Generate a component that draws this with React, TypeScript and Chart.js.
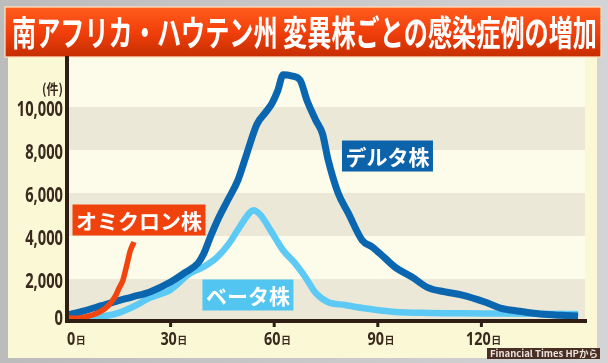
import React, { useEffect, useRef } from "react";
import { Chart, registerables } from "chart.js";

Chart.register(...registerables);

const titleText = "南アフリカ・ハウテン州 変異株ごとの感染症例の増加";
const unitLabel = "(件)";
const creditText = "Financial Times HPから";

const yTicks = [0, 2000, 4000, 6000, 8000, 10000];
const xTicks = [0, 30, 60, 90, 120];
const tanBands = [
  [0, 2000],
  [4000, 6000],
  [8000, 10000],
];

const deltaDays = [0, 5, 10, 14, 19, 24, 30, 34, 38, 39.5, 41.5, 43.5, 46.5, 49.5, 52, 55, 57.5, 59.3, 61, 62.6, 65, 67.5, 69.5, 72, 74, 75.6, 78.5, 81.5, 85.5, 88.5, 92, 95, 100, 104.5, 109.5, 114.5, 121, 125.5, 131, 137, 143, 148];
const deltaValues = [330, 520, 760, 950, 1170, 1400, 1860, 2280, 2750, 3150, 3950, 4700, 5650, 6600, 7800, 9200, 9750, 10150, 10750, 11500, 11450, 11250, 10300, 9400, 8750, 7550, 6000, 5050, 3800, 3480, 2980, 2550, 2080, 1600, 1400, 1250, 930, 650, 500, 370, 310, 280];

const betaDays = [0, 5, 10, 14.5, 19, 24, 30, 35.5, 39.5, 43.5, 47, 50, 53, 54, 56, 59, 62.5, 66, 69, 72, 75.5, 80.5, 85.5, 95, 105, 120, 135, 148];
const betaValues = [80, 120, 250, 400, 700, 1120, 1500, 2250, 2560, 3020, 3670, 4420, 5100, 5200, 4980, 4250, 3350, 2740, 2090, 1350, 930, 790, 650, 470, 420, 400, 380, 370];

const omicronDays = [0, 3, 6, 9, 11, 12.5, 14, 15, 16.2, 17.4, 18.3, 19.4];
const omicronValues = [200, 180, 260, 430, 620, 860, 1200, 1550, 1950, 2700, 3300, 3720];

const seriesLabels = [
  { text: "オミクロン株", day: 20.85, value: 4744, color: "#f0420c" },
  { text: "デルタ株", day: 92.8, value: 7720, color: "#0d63a9" },
  { text: "ベータ株", day: 52.4, value: 1256, color: "#52c5f1" },
];

const toPoints = (xs: number[], ys: number[]) => xs.map((x, i) => ({ x, y: ys[i] }));

const bgPlugin = {
  id: "bg",
  beforeDraw(chart: any) {
    const { ctx, chartArea } = chart;
    const W = chart.width;
    const H = chart.height;
    ctx.save();
    const g = ctx.createLinearGradient(0, 0, W, 0);
    g.addColorStop(0, "#bcbcbc");
    g.addColorStop(1, "#d4d4d6");
    ctx.fillStyle = g;
    ctx.fillRect(0, 0, W, H);
    // panel
    ctx.fillStyle = "#fbf8d6";
    ctx.fillRect(8, 48, 589, 310);
    // plot background
    ctx.fillStyle = "#fdfcea";
    ctx.fillRect(chartArea.left, 56, chartArea.right - chartArea.left, chartArea.bottom - 56);
    const ys = chart.scales.y;
    ctx.fillStyle = "#ece8d7";
    tanBands.forEach(([a, b]) => {
      const y1 = ys.getPixelForValue(b);
      const y0 = ys.getPixelForValue(a);
      ctx.fillRect(chartArea.left, y1, chartArea.right - chartArea.left, y0 - y1);
    });
    // title bar
    const tg = ctx.createLinearGradient(0, 7, 0, 57);
    tg.addColorStop(0, "#ff5d1e");
    tg.addColorStop(0.5, "#f23f0b");
    tg.addColorStop(1, "#c42e02");
    ctx.fillStyle = tg;
    ctx.beginPath();
    ctx.rect(5, 7, 596, 50);
    ctx.fill();
    ctx.strokeStyle = "rgba(255,225,190,0.85)";
    ctx.lineWidth = 1.5;
    ctx.stroke();
    ctx.fillStyle = "#ffffff";
    ctx.font = 'bold 35px "Noto Sans CJK JP"';
    ctx.textBaseline = "middle";
    ctx.textAlign = "left";
    const tw = ctx.measureText(titleText).width;
    ctx.translate(12, 33);
    ctx.scale(585 / tw, 1);
    ctx.fillText(titleText, 0, 0);
    ctx.restore();
  },
  afterDatasetsDraw(chart: any) {
    const { ctx, chartArea } = chart;
    const xs = chart.scales.x;
    ctx.save();
    ctx.strokeStyle = "#2e1e14";
    ctx.lineWidth = 4;
    ctx.beginPath();
    ctx.moveTo(chartArea.left, 56);
    ctx.lineTo(chartArea.left, chartArea.bottom + 1);
    ctx.moveTo(chartArea.left - 2, chartArea.bottom - 1);
    ctx.lineTo(chartArea.right + 2, chartArea.bottom - 1);
    ctx.stroke();
    ctx.lineWidth = 3;
    xTicks.slice(1).forEach((t) => {
      const px = xs.getPixelForValue(t);
      ctx.beginPath();
      ctx.moveTo(px, chartArea.bottom);
      ctx.lineTo(px, chartArea.bottom + 5);
      ctx.stroke();
    });
    ctx.restore();
  },
  afterDraw(chart: any) {
    const { ctx, chartArea } = chart;
    const xs = chart.scales.x;
    const ys = chart.scales.y;
    ctx.save();
    ctx.fillStyle = "#3a2a1e";
    ctx.textBaseline = "middle";
    // y labels
    ctx.font = 'bold 21px "Noto Sans"';
    yTicks.forEach((t) => {
      const py = Math.min(ys.getPixelForValue(t) + 2, chartArea.bottom - 4);
      const txt = t.toLocaleString("en-US");
      ctx.save();
      ctx.translate(63, py);
      ctx.scale(0.7, 1);
      ctx.textAlign = "right";
      ctx.fillText(txt, 0, 1);
      ctx.restore();
    });
    // unit
    ctx.save();
    ctx.font = 'bold 14px "Noto Sans CJK JP"';
    ctx.translate(63, 89);
    ctx.scale(0.85, 1);
    ctx.textAlign = "right";
    ctx.fillText(unitLabel, 0, 0);
    ctx.restore();
    // x labels
    ctx.textBaseline = "alphabetic";
    xTicks.forEach((t) => {
      const px = xs.getPixelForValue(t);
      const txt = String(t);
      ctx.font = 'bold 18px "Noto Sans"';
      const dw = ctx.measureText(txt).width * 0.8;
      const start = Math.max(chartArea.left, px - dw * 0.62);
      ctx.save();
      ctx.translate(start, 345);
      ctx.scale(0.8, 1);
      ctx.textAlign = "left";
      ctx.fillText(txt, 0, 0);
      ctx.restore();
      ctx.font = 'bold 10px "Noto Sans CJK JP"';
      ctx.textAlign = "left";
      ctx.fillText("日", start + dw + 0.5, 344);
    });
    // series labels
    ctx.font = 'bold 21px "Noto Sans CJK JP"';
    ctx.textBaseline = "middle";
    seriesLabels.forEach((l) => {
      const cx = xs.getPixelForValue(l.day);
      const cy = ys.getPixelForValue(l.value);
      const w = ctx.measureText(l.text).width + 7;
      const h = 31;
      ctx.fillStyle = l.color;
      ctx.fillRect(cx - w / 2, cy - h / 2, w, h);
      ctx.fillStyle = "#ffffff";
      ctx.textAlign = "center";
      ctx.fillText(l.text, cx, cy + 1);
    });
    // credit
    ctx.fillStyle = "#4a2f25";
    ctx.fillRect(487, 348, 113, 11);
    ctx.fillStyle = "#ece4dc";
    ctx.font = 'bold 9px "Noto Sans CJK JP"';
    ctx.textAlign = "left";
    ctx.textBaseline = "middle";
    const cw = ctx.measureText(creditText).width;
    ctx.save();
    ctx.translate(490, 353.5);
    ctx.scale(Math.min(1.2, 108 / cw), 1);
    ctx.fillText(creditText, 0, 0);
    ctx.restore();
    ctx.restore();
  },
};

export default function App() {
  const ref = useRef<HTMLCanvasElement | null>(null);
  useEffect(() => {
    document.body.style.margin = "0";
    if (!ref.current) return;
    const chart = new Chart(ref.current, {
      type: "line",
      data: {
        datasets: [
          {
            label: "オミクロン株",
            data: toPoints(omicronDays, omicronValues),
            borderColor: "#f2440f",
            borderWidth: 5.5,
            pointRadius: 0,
            cubicInterpolationMode: "monotone",
          },
          {
            label: "デルタ株",
            data: toPoints(deltaDays, deltaValues),
            borderColor: "#0b66b0",
            borderWidth: 7,
            pointRadius: 0,
            cubicInterpolationMode: "monotone",
            borderJoinStyle: "round",
          },
          {
            label: "ベータ株",
            data: toPoints(betaDays, betaValues),
            borderColor: "#5ccaf5",
            borderWidth: 6.5,
            pointRadius: 0,
            cubicInterpolationMode: "monotone",
            borderJoinStyle: "round",
          },
        ] as any,
      },
      options: {
        responsive: false,
        animation: false,
        devicePixelRatio: 1,
        layout: { padding: { left: 67, right: 23, top: 64, bottom: 41 } },
        scales: {
          x: { type: "linear", min: 0, max: 150, display: false },
          y: { type: "linear", min: 0, max: 12000, display: false },
        },
        plugins: { legend: { display: false }, tooltip: { enabled: false }, title: { display: false } },
      } as any,
      plugins: [bgPlugin],
    });
    return () => chart.destroy();
  }, []);
  return <canvas ref={ref} width={608} height={363} style={{ display: "block" }} />;
}
